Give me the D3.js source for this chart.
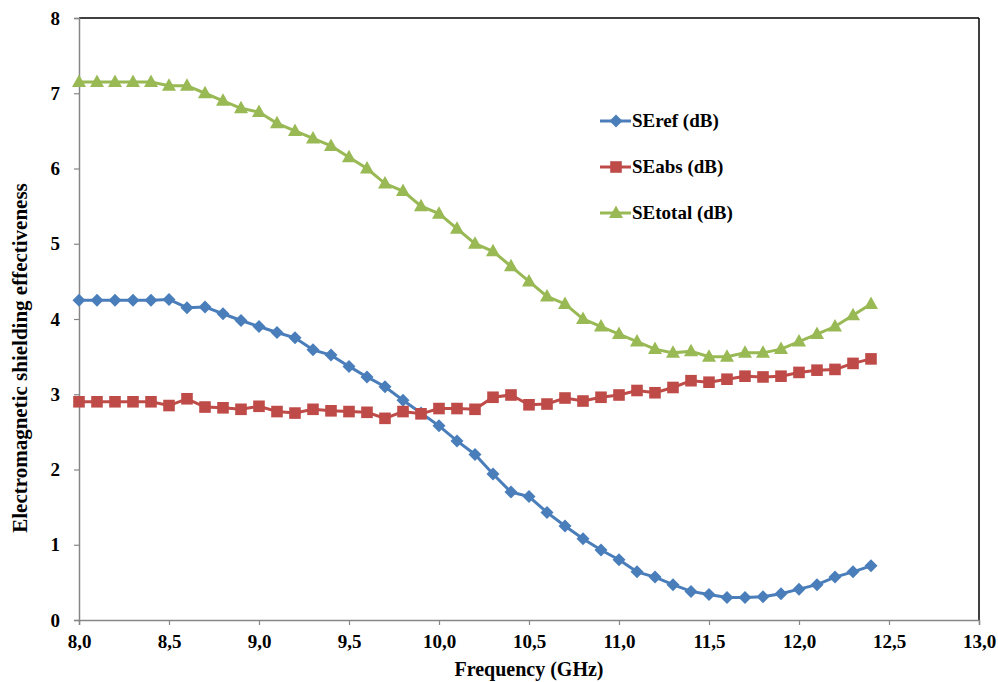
<!DOCTYPE html>
<html><head><meta charset="utf-8">
<script src="https://cdn.jsdelivr.net/npm/d3@7"></script>
<style>body{margin:0;background:#fff}svg{display:block}</style>
</head><body>
<script>
const freq = [8.0,8.1,8.2,8.3,8.4,8.5,8.6,8.7,8.8,8.9,9.0,9.1,9.2,9.3,9.4,9.5,9.6,9.7,9.8,9.9,10.0,10.1,10.2,10.3,10.4,10.5,10.6,10.7,10.8,10.9,11.0,11.1,11.2,11.3,11.4,11.5,11.6,11.7,11.8,11.9,12.0,12.1,12.2,12.3,12.4];
const seRef = [4.25,4.25,4.25,4.25,4.25,4.26,4.15,4.16,4.07,3.98,3.9,3.82,3.75,3.59,3.52,3.37,3.23,3.1,2.92,2.75,2.58,2.38,2.2,1.94,1.7,1.64,1.43,1.25,1.08,0.93,0.8,0.64,0.57,0.47,0.38,0.34,0.3,0.3,0.31,0.35,0.41,0.47,0.57,0.64,0.72];
const seAbs = [2.9,2.9,2.9,2.9,2.9,2.85,2.94,2.83,2.82,2.8,2.84,2.77,2.75,2.8,2.78,2.77,2.76,2.68,2.77,2.74,2.81,2.81,2.8,2.96,2.99,2.86,2.87,2.95,2.91,2.96,2.99,3.05,3.02,3.09,3.18,3.16,3.2,3.24,3.23,3.24,3.29,3.32,3.33,3.41,3.47];
const seTotal = [7.15,7.15,7.15,7.15,7.15,7.1,7.1,7.0,6.9,6.8,6.75,6.6,6.5,6.4,6.3,6.15,6.0,5.8,5.7,5.5,5.4,5.2,5.0,4.9,4.7,4.5,4.3,4.2,4.0,3.9,3.8,3.7,3.6,3.55,3.57,3.5,3.5,3.55,3.55,3.6,3.7,3.8,3.9,4.05,4.2];
const seriesNames = ["SEref (dB)","SEabs (dB)","SEtotal (dB)"];
const xTicks = [8.0,8.5,9.0,9.5,10.0,10.5,11.0,11.5,12.0,12.5,13.0];
const yTicks = [0,1,2,3,4,5,6,7,8];
const xTitle = "Frequency (GHz)";
const yTitle = "Electromagnetic shielding effectiveness";

const W = 998, H = 682;
const m = {left:79, right:19, top:18, bottom:62};
const FONT = "Liberation Serif";
const svg = d3.select("body").append("svg").attr("width",W).attr("height",H);
const x = d3.scaleLinear().domain([8,13]).range([m.left, W-m.right]);
const y = d3.scaleLinear().domain([0,8]).range([H-m.bottom, m.top]);

// border top/right
svg.append("line").attr("x1",x(8)).attr("x2",x(13)).attr("y1",y(8)).attr("y2",y(8)).attr("stroke","#000").attr("stroke-width",1.5);
svg.append("line").attr("x1",x(13)).attr("x2",x(13)).attr("y1",y(8)).attr("y2",y(0)).attr("stroke","#000").attr("stroke-width",1.5);

const fmt = d => d.toFixed(1).replace(".", ",");
const gx = svg.append("g").attr("transform",`translate(0,${y(0)})`)
  .call(d3.axisBottom(x).tickValues(xTicks).tickFormat(fmt).tickSize(5).tickPadding(10));
const gy = svg.append("g").attr("transform",`translate(${x(8)},0)`)
  .call(d3.axisLeft(y).tickValues(yTicks).tickFormat(d3.format("d")).tickSize(5).tickPadding(14));
[gx,gy].forEach(g=>{
  g.attr("font-family",FONT).attr("font-size",19).attr("font-weight","bold");
  g.select(".domain").attr("stroke","#868686").attr("stroke-width",1.5);
  g.selectAll(".tick line").attr("stroke","#868686").attr("stroke-width",1.2);
  g.selectAll("text").attr("fill","#000");
});

svg.append("text").attr("x",(x(8)+x(13))/2).attr("y",676).attr("text-anchor","middle")
  .attr("font-family",FONT).attr("font-weight","bold").attr("font-size",20).text(xTitle);
svg.append("text").attr("transform",`translate(27,358) rotate(-90)`).attr("text-anchor","middle")
  .attr("font-family",FONT).attr("font-weight","bold").attr("font-size",21).text(yTitle);

const colors = ["#4A7EBB","#BE4B48","#98B954"];
const data = [seRef, seAbs, seTotal];
const shapes = [
  "M0,-6.5L6.5,0L0,6.5L-6.5,0Z",
  "M-5.8,-5.8H5.8V5.8H-5.8Z",
  "M0,-7.5L7,5L-7,5Z"
];
const line = d3.line().x((d,i)=>x(freq[i])).y(d=>y(d));
function marker(g, k, cx, cy){
  g.append("path").attr("d",shapes[k]).attr("fill",colors[k]).attr("transform",`translate(${cx},${cy})`);
}
data.forEach((vals,k)=>{
  const g = svg.append("g");
  g.append("path").attr("d",line(vals)).attr("fill","none").attr("stroke",colors[k]).attr("stroke-width",3);
  vals.forEach((v,i)=>marker(g,k,x(freq[i]),y(v)));
});

// legend
const lg = svg.append("g");
seriesNames.forEach((n,k)=>{
  const ly = 121 + k*46;
  lg.append("line").attr("x1",600).attr("x2",631).attr("y1",ly).attr("y2",ly).attr("stroke",colors[k]).attr("stroke-width",3);
  marker(lg,k,616,ly);
  lg.append("text").attr("x",632).attr("y",ly+6).attr("font-family",FONT).attr("font-weight","bold").attr("font-size",19).text(n);
});
</script>
</body></html>
